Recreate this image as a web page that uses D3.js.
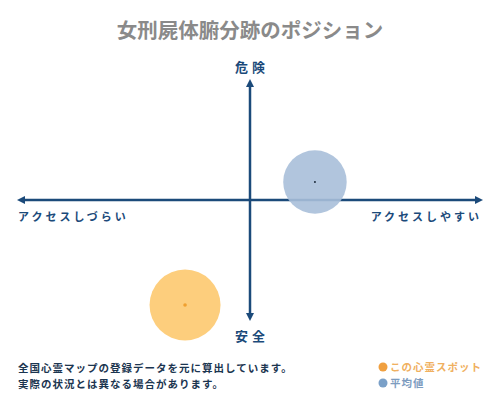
<!DOCTYPE html>
<html>
<head>
<meta charset="utf-8">
<script src="https://cdn.jsdelivr.net/npm/d3@7"></script>
<style>
  body { margin: 0; background: #fff; }
  text { font-family: "Noto Sans CJK JP", sans-serif; }
</style>
</head>
<body>
<svg id="chart" width="500" height="400"></svg>
<script>
// values, both axes run -1 .. 1
const spotNames = ["平均値", "この心霊スポット"];
const accessValues = [0.28, -0.28];   // x: しづらい(-) .. しやすい(+)
const dangerValues = [0.15, -0.875];  // y: 安全(-) .. 危険(+)
const sizeValues = [0.8, 1.0];
const footnotes = ["全国心霊マップの登録データを元に算出しています。", "実際の状況とは異なる場合があります。"];
const legendLabels = ["この心霊スポット", "平均値"];

const navy = "#1b4a7a";
const fills = ["#a9bfd9", "#fdc96f"];
const dots = ["#1b2a3a", "#f0a030"];

var svg = d3.select("#chart");

var x = d3.scaleLinear().domain([-1, 1]).range([18, 482]);
var y = d3.scaleLinear().domain([-1, 1]).range([320, 80]);
var r = d3.scaleSqrt().domain([0, 1]).range([0, 35.5]);

svg.append("text")
  .attr("x", 250).attr("y", 38)
  .attr("text-anchor", "middle")
  .attr("font-size", 20.5).attr("font-weight", "bold")
  .attr("fill", "#8a8a8a")
  .text("女刑屍体腑分跡のポジション");

// arrow markers
var defs = svg.append("defs");
defs.append("marker")
  .attr("id", "arrow")
  .attr("viewBox", "0 0 10 10")
  .attr("refX", 5).attr("refY", 5)
  .attr("markerWidth", 3.2).attr("markerHeight", 3.2)
  .attr("orient", "auto-start-reverse")
  .append("path")
  .attr("d", "M0,0 L10,5 L0,10 z")
  .attr("fill", navy);

// axes
svg.append("line")
  .attr("x1", x(-1) + 3).attr("x2", x(1) - 3)
  .attr("y1", y(0)).attr("y2", y(0))
  .attr("stroke", navy).attr("stroke-width", 2.5)
  .attr("marker-start", "url(#arrow)").attr("marker-end", "url(#arrow)");

svg.append("line")
  .attr("x1", x(0)).attr("x2", x(0))
  .attr("y1", y(-1) - 3).attr("y2", y(1) + 3)
  .attr("stroke", navy).attr("stroke-width", 2.5)
  .attr("marker-start", "url(#arrow)").attr("marker-end", "url(#arrow)");

// axis labels
svg.append("text")
  .attr("x", x(0) + 2).attr("y", y(1) - 8)
  .attr("text-anchor", "middle")
  .attr("font-size", 13).attr("font-weight", "bold")
  .attr("letter-spacing", 4).attr("fill", navy)
  .text("危険");
svg.append("text")
  .attr("x", x(0) + 2).attr("y", y(-1) + 21)
  .attr("text-anchor", "middle")
  .attr("font-size", 13).attr("font-weight", "bold")
  .attr("letter-spacing", 4).attr("fill", navy)
  .text("安全");
svg.append("text")
  .attr("x", x(-1)).attr("y", y(0) + 21)
  .attr("font-size", 11).attr("font-weight", "bold")
  .attr("letter-spacing", 3).attr("fill", navy)
  .text("アクセスしづらい");
svg.append("text")
  .attr("x", x(1)).attr("y", y(0) + 21)
  .attr("text-anchor", "end")
  .attr("font-size", 11).attr("font-weight", "bold")
  .attr("letter-spacing", 3).attr("fill", navy)
  .text("アクセスしやすい");

// bubbles
var pts = spotNames.map(function (n, i) {
  return { name: n, ax: accessValues[i], dg: dangerValues[i], s: sizeValues[i], i: i };
});

var g = svg.selectAll("g.spot").data(pts).enter().append("g").attr("class", "spot");
g.append("circle")
  .attr("cx", function (d) { return x(d.ax); })
  .attr("cy", function (d) { return y(d.dg); })
  .attr("r", function (d) { return r(d.s); })
  .attr("fill", function (d) { return fills[d.i]; })
  .attr("fill-opacity", 0.9);
g.append("circle")
  .attr("cx", function (d) { return x(d.ax); })
  .attr("cy", function (d) { return y(d.dg); })
  .attr("r", function (d) { return d.i === 0 ? 1 : 1.8; })
  .attr("fill", function (d) { return dots[d.i]; });

// footnotes
svg.selectAll("text.note").data(footnotes).enter().append("text")
  .attr("class", "note")
  .attr("x", 18)
  .attr("y", function (d, i) { return 372 + i * 16; })
  .attr("font-size", 10.5).attr("font-weight", "bold")
  .attr("letter-spacing", 1)
  .attr("fill", "#1b3550")
  .text(function (d) { return d; });

// legend
var legendColors = [["#f0a040", "#f0b060"], ["#7aa0c8", "#7d9cbf"]];
var lg = svg.selectAll("g.legend").data(legendLabels).enter().append("g")
  .attr("class", "legend")
  .attr("transform", function (d, i) { return "translate(383," + (367 + i * 16) + ")"; });
lg.append("circle").attr("r", 4.5)
  .attr("fill", function (d, i) { return legendColors[i][0]; });
lg.append("text")
  .attr("x", 7).attr("y", 4)
  .attr("font-size", 10.5).attr("font-weight", "bold")
  .attr("letter-spacing", 1)
  .attr("fill", function (d, i) { return legendColors[i][1]; })
  .text(function (d) { return d; });
</script>
</body>
</html>
